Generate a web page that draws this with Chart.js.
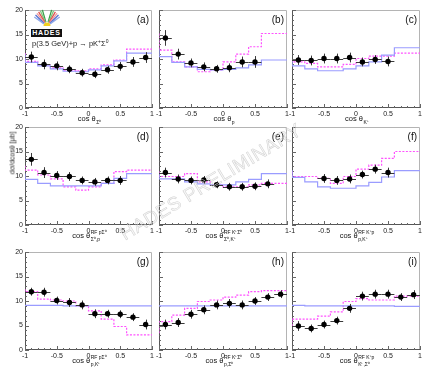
<!DOCTYPE html>
<html><head><meta charset="utf-8">
<script src="https://cdn.jsdelivr.net/npm/chart.js@4.4.1/dist/chart.umd.min.js"></script>
<style>
html,body{margin:0;padding:0;background:#fff;width:422px;height:368px;overflow:hidden;position:relative;font-family:"Liberation Sans",Arial,sans-serif;}
.cell{position:absolute;}
.cell canvas{display:block;}
.ov{position:absolute;pointer-events:none;white-space:nowrap;}
#hades{left:31px;top:29px;width:31px;height:8px;background:#111;color:#fff;font:bold 7px "Liberation Sans",Arial,sans-serif;letter-spacing:0.8px;text-align:center;line-height:8px;}
#react{left:32px;top:38px;font-size:7.5px;color:#222;}
#react sup{font-size:5px;vertical-align:3px;}
#ylab{left:12px;top:153px;font-size:7px;color:#222;transform:translate(-50%,-50%) rotate(-90deg);}
#wm{left:211px;top:182px;font-size:19px;color:rgba(0,0,0,0.03);-webkit-text-stroke:0.5px #cfcfcf;transform:translate(-50%,-50%) rotate(-31deg);letter-spacing:0.5px;}
</style></head><body>
<div id="root"></div>
<div class="ov" id="hades">HADES</div>
<div class="ov" id="react">p(3.5 GeV)+p → pK<sup>+</sup>Σ<sup>0</sup></div>
<div class="ov" id="ylab">dσ/dcosθ [μb]</div>
<div class="ov" id="wm">HADES PRELIMINARY</div>
<script>
// ---------- data ----------
const binEdges   = [-1, -0.8, -0.6, -0.4, -0.2, 0, 0.2, 0.4, 0.6, 0.8, 1];
const binCenters = [-0.9, -0.7, -0.5, -0.3, -0.1, 0.1, 0.3, 0.5, 0.7, 0.9];
const xTickStep = 0.5;
const yTickStep = 5;

// (a) cos theta Sigma0
const ptsA = [10.4, 8.9, 8.6, 7.9, 7.2, 6.9, 7.8, 8.5, 9.4, 10.3];
const errA = [1.1, 1.0, 0.9, 0.8, 0.8, 0.8, 0.8, 0.9, 1.0, 1.1];
const magA = [11.2, 9.5, 8.8, 8.2, 7.7, 7.6, 8.0, 8.8, 9.8, 12.0];
const bluA = [10.9, 9.3, 8.6, 8.0, 7.5, 7.4, 7.8, 8.6, 9.6, 11.2];
// (b) cos theta p
const ptsB = [14.3, 11.0, 9.2, 8.4, 8.0, 8.2, 9.4, 9.4, null, null];
const errB = [1.6, 1.1, 0.9, 0.9, 0.8, 0.9, 1.1, 1.2, 0, 0];
const magB = [15.2, 11.8, 9.4, 8.4, 7.4, 7.8, 9.4, 11.0, 12.5, 15.2];
const bluB = [12.0, 10.5, 9.3, 8.4, 7.9, 7.8, 7.9, 8.2, 8.8, 9.8];
// (c) cos theta K+
const ptsC = [9.8, 9.7, 10.1, 10.1, 10.3, 9.4, 9.9, 9.5, null, null];
const errC = [1.0, 1.0, 1.0, 1.0, 1.0, 0.9, 0.9, 1.0, 0, 0];
const magC = [9.8, 9.4, 9.1, 8.4, 8.4, 8.9, 10.1, 10.6, 10.6, 11.2];
const bluC = [9.6, 8.6, 8.0, 7.6, 7.6, 8.0, 8.6, 9.4, 10.8, 12.3];
// (d)
const ptsD = [13.4, 10.7, 10.1, 9.9, 9.1, 8.8, 9.1, 9.1, null, null];
const errD = [1.3, 1.1, 0.9, 0.9, 0.8, 0.8, 0.8, 0.9, 0, 0];
const magD = [12.1, 11.2, 10.2, 9.4, 7.8, 7.1, 7.8, 8.5, 10.9, 11.2];
const bluD = [10.5, 9.3, 8.5, 8.0, 8.0, 8.0, 8.0, 8.5, 9.5, 10.5];
// (e)
const ptsE = [10.7, 9.4, 9.1, 9.2, 8.2, 7.8, 7.8, 7.9, 8.4, null];
const errE = [1.0, 0.9, 0.8, 0.8, 0.7, 0.8, 0.8, 0.8, 0.9, 0];
const magE = [10.9, 9.9, 9.9, 10.5, 8.8, 8.2, 7.8, 7.8, 8.2, 8.5];
const bluE = [10.5, 9.4, 9.4, 8.8, 8.4, 8.2, 8.2, 8.8, 9.3, 10.5];
// (f)
const ptsF = [null, null, 9.5, 9.1, 9.4, 10.3, 11.4, 10.7, null, null];
const errF = [0, 0, 0.9, 0.9, 0.9, 0.8, 0.9, 1.0, 0, 0];
const magF = [10.9, 9.9, 9.9, 9.5, 8.5, 9.9, 11.4, 12.2, 13.6, 15.0];
const bluF = [11.2, 9.7, 8.8, 7.8, 7.5, 7.5, 8.0, 8.7, 9.8, 11.1];
// (g)
const ptsG = [11.9, 11.8, 10.1, 9.7, 9.2, 7.4, 7.4, 7.3, 6.7, 5.2];
const errG = [0.8, 0.9, 0.8, 0.9, 0.9, 0.9, 0.8, 0.8, 0.8, 1.0];
const magG = [12.4, 11.9, 10.4, 10.2, 10.0, 9.0, 8.0, 6.3, 4.8, 3.1];
const bluG = [9.2, 9.1, 9.1, 9.1, 9.0, 9.0, 9.0, 9.0, 9.0, 9.0];
// (h)
const ptsH = [5.2, 5.6, 7.3, 8.2, 9.2, 9.5, 9.2, 10.0, 10.8, 11.4];
const errH = [1.0, 0.9, 0.9, 0.9, 0.9, 0.9, 0.9, 0.8, 0.8, 0.8];
const magH = [3.4, 5.8, 7.1, 8.5, 9.9, 10.2, 10.8, 11.2, 11.9, 12.1];
const bluH = [9.0, 9.0, 9.0, 9.0, 9.0, 9.0, 9.0, 9.0, 9.0, 9.0];
// (i)
const ptsI = [4.9, 4.4, 5.2, 6.0, 8.5, 11.0, 11.4, 11.4, 10.8, 11.3];
const errI = [1.0, 0.8, 0.8, 0.8, 0.9, 0.9, 0.9, 0.9, 0.8, 0.9];
const magI = [4.9, 6.3, 6.3, 6.9, 7.8, 9.9, 10.5, 10.2, 10.2, 11.0];
const bluI = [9.1, 9.1, 9.0, 9.0, 9.0, 9.0, 9.0, 9.0, 9.0, 8.9];

const panelLabels = ['(a)','(b)','(c)','(d)','(e)','(f)','(g)','(h)','(i)'];
const titleSubs = ['Σ⁰','p','K⁺','Σ⁰,p','Σ⁰,K⁺','p,K⁺','p,K⁺','p,Σ⁰','K⁺,Σ⁰'];
const titleSups = ['','','','RF pΣ⁰','RF K⁺Σ⁰','RF K⁺p','RF pΣ⁰','RF K⁺Σ⁰','RF K⁺p'];

const allPts = [ptsA, ptsB, ptsC, ptsD, ptsE, ptsF, ptsG, ptsH, ptsI];
const allErr = [errA, errB, errC, errD, errE, errF, errG, errH, errI];
const allMag = [magA, magB, magC, magD, magE, magF, magG, magH, magI];
const allBlu = [bluA, bluB, bluC, bluD, bluE, bluF, bluG, bluH, bluI];

// ---------- layout ----------
const colL = [25, 159, 292];
const colW = [128, 129, 129];
const rowT = [10, 127, 252];
const plotH = 98;
const padL = 20, padT = 4, padR = 3, padB = 24;
const FONT = '"Liberation Sans", Arial, sans-serif';

Chart.defaults.font.family = FONT;

const errPlugin = {
  id: 'errbars',
  beforeDatasetDraw(chart, args) {
    if (args.index !== 0) return;
    const {ctx} = chart; const x = chart.scales.x, y = chart.scales.y;
    ctx.save(); ctx.strokeStyle = '#3a3a3a'; ctx.lineWidth = 1;
    chart.data.datasets[0].data.forEach(d => {
      const px = Math.round(x.getPixelForValue(d.x)) + 0.5;
      const py = Math.round(y.getPixelForValue(d.y)) + 0.5;
      ctx.beginPath();
      ctx.moveTo(x.getPixelForValue(d.x - 0.1), py); ctx.lineTo(x.getPixelForValue(d.x + 0.1), py);
      ctx.moveTo(px, y.getPixelForValue(d.y - d.e)); ctx.lineTo(px, y.getPixelForValue(d.y + d.e));
      ctx.stroke();
    });
    ctx.restore();
  }
};

const framePlugin = {
  id: 'frame',
  beforeDatasetsDraw(chart) {
    const {ctx, chartArea: a} = chart; const x = chart.scales.x, y = chart.scales.y;
    ctx.save();
    ctx.strokeStyle = '#b4b4b4'; ctx.lineWidth = 1;
    ctx.beginPath();
    ctx.moveTo(a.left, a.top + 0.5); ctx.lineTo(a.right - 0.5, a.top + 0.5); ctx.lineTo(a.right - 0.5, a.bottom);
    ctx.stroke();
    ctx.strokeStyle = '#555'; ctx.beginPath();
    ctx.moveTo(a.left + 0.5, a.top); ctx.lineTo(a.left + 0.5, a.bottom - 0.5); ctx.lineTo(a.right, a.bottom - 0.5);
    ctx.stroke();
    // ticks (inside)
    ctx.strokeStyle = '#666'; ctx.beginPath();
    for (let v = 0; v <= 20; v += 1) {
      const py = Math.round(y.getPixelForValue(v)) + 0.5;
      const len = (v % yTickStep === 0) ? 4 : 2;
      ctx.moveTo(a.left, py); ctx.lineTo(a.left + len, py);
    }
    for (let i = -10; i <= 10; i++) {
      const v = i / 10;
      const px = Math.round(x.getPixelForValue(v)) + 0.5;
      const len = (i % 5 === 0) ? 4 : 2;
      ctx.moveTo(px, a.bottom); ctx.lineTo(px, a.bottom - len);
    }
    ctx.stroke();
    ctx.restore();
  },
  afterDraw(chart) {
    const o = chart.options.plugins.frame;
    const {ctx, chartArea: a} = chart;
    ctx.save();
    ctx.fillStyle = '#111';
    ctx.font = '10px ' + FONT; ctx.textAlign = 'right'; ctx.textBaseline = 'alphabetic';
    ctx.fillText(o.label, a.right - 3, a.top + 13);
    // axis title
    const main = 'cos θ';
    ctx.font = '7.5px ' + FONT;
    const wMain = ctx.measureText(main).width;
    ctx.font = '5px ' + FONT;
    const wSub = ctx.measureText(o.sub).width, wSup = ctx.measureText(o.sup).width;
    const total = wMain + 0.5 + Math.max(wSub, wSup);
    const cx = (a.left + a.right) / 2 + 1;
    const x0 = cx - total / 2;
    const base = a.bottom + 13;
    ctx.textAlign = 'left';
    ctx.font = '7.5px ' + FONT; ctx.fillText(main, x0, base);
    ctx.font = '5px ' + FONT;
    ctx.fillText(o.sub, x0 + wMain + 0.5, base + 2.5);
    if (o.sup) ctx.fillText(o.sup, x0 + wMain + 0.5, base - 4);
    // logo fan (panel a only)
    if (o.logo) {
      const cv = chart.canvas.parentNode;
      const offX = parseFloat(cv.style.left), offY = parseFloat(cv.style.top);
      const cxl = 47 - offX, cyl = 26 - offY;
      const cols = ['#3aa04a', '#7cc87e', '#e05050', '#f29a9a', '#5070d0', '#90a8e8'];
      ctx.lineWidth = 1.3;
      for (let s = -1; s <= 1; s += 2) {
        for (let k = 0; k < 6; k++) {
          const ang = (18 + k * 8) * Math.PI / 180;
          ctx.strokeStyle = cols[k];
          ctx.beginPath();
          ctx.moveTo(cxl + s * 3 * Math.sin(ang) * 1.2, cyl - 4 * Math.cos(ang));
          ctx.lineTo(cxl + s * 15 * Math.sin(ang), cyl - 17 * Math.cos(ang));
          ctx.stroke();
        }
      }
      ctx.fillStyle = '#f2d020';
      ctx.beginPath(); ctx.arc(cxl, cyl, 3.5, Math.PI, 2 * Math.PI); ctx.fill();
    }
    ctx.restore();
  }
};

const root = document.getElementById('root');
for (let p = 0; p < 9; p++) {
  const col = p % 3, row = Math.floor(p / 3);
  const plotL = colL[col], plotW = colW[col], plotT = rowT[row];
  const div = document.createElement('div');
  div.className = 'cell';
  const W = padL + plotW + padR, H = padT + plotH + padB;
  div.style.left = (plotL - padL) + 'px'; div.style.top = (plotT - padT) + 'px';
  div.style.width = W + 'px'; div.style.height = H + 'px';
  const cv = document.createElement('canvas'); cv.width = W; cv.height = H;
  div.appendChild(cv); root.appendChild(div);

  const pts = allPts[p], err = allErr[p], mag = allMag[p], blu = allBlu[p];
  const ptData = [];
  binCenters.forEach((c, i) => { if (pts[i] != null) ptData.push({x: c, y: pts[i], e: err[i]}); });
  const step = arr => binEdges.map((e, i) => ({x: e, y: arr[Math.min(i, arr.length - 1)]}));

  new Chart(cv, {
    type: 'scatter',
    data: { datasets: [
      { data: ptData, pointRadius: 2.7, pointBackgroundColor: '#000', pointBorderWidth: 0, showLine: false, order: 0 },
      { type: 'line', data: step(mag), stepped: 'after', borderColor: '#ff50ff', borderDash: [2, 1.5], borderWidth: 1.2, pointRadius: 0, fill: false, order: 2 },
      { type: 'line', data: step(blu), stepped: 'after', borderColor: '#9a9cff', borderWidth: 1.2, pointRadius: 0, fill: false, order: 1 }
    ]},
    options: {
      responsive: false, animation: false, events: [],
      devicePixelRatio: 1,
      layout: { padding: { top: padT, right: padR, left: 0, bottom: 0 } },
      plugins: { legend: {display: false}, tooltip: {enabled: false},
        frame: { label: panelLabels[p], sub: titleSubs[p], sup: titleSups[p], logo: p === 0 } },
      scales: {
        x: { type: 'linear', min: -1, max: 1,
             ticks: { stepSize: xTickStep, font: {size: 7}, color: '#222', padding: 2, maxRotation: 0, autoSkip: false, callback: v => String(Math.round(v * 10) / 10) },
             grid: { display: false, drawTicks: false }, border: { display: false },
             afterFit: s => { s.height = padB; s.paddingLeft = 0; s.paddingRight = 0; } },
        y: { type: 'linear', min: 0, max: 20,
             ticks: { display: col === 0, stepSize: yTickStep, font: {size: 7}, color: '#222', padding: 2 },
             grid: { display: false, drawTicks: false }, border: { display: false },
             afterFit: s => { s.width = padL; s.paddingTop = 0; s.paddingBottom = 0; } }
      }
    },
    plugins: [framePlugin, errPlugin]
  });
}
</script>
</body></html>
